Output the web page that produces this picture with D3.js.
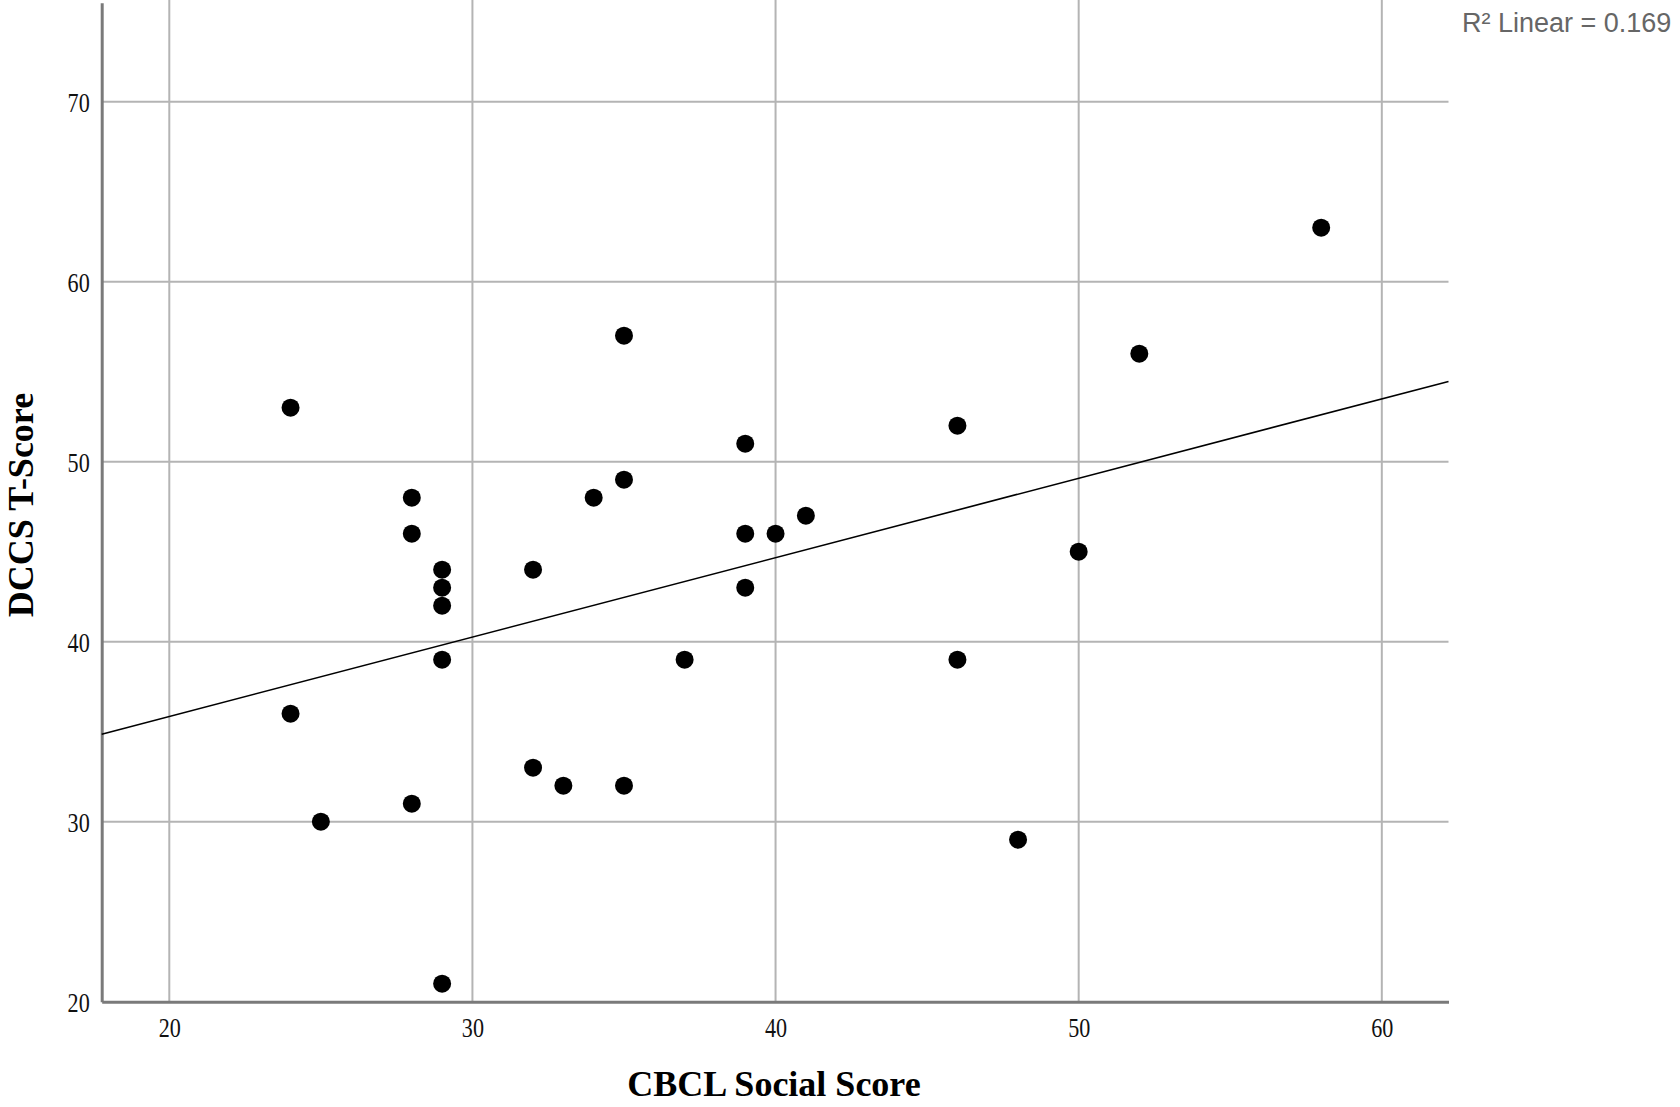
<!DOCTYPE html>
<html>
<head>
<meta charset="utf-8">
<script src="https://cdn.jsdelivr.net/npm/d3@7"></script>
<style>
  body { margin: 0; background: #fff; overflow: hidden; }
  svg { display: block; }
</style>
</head>
<body>
<svg width="1680" height="1107"></svg>
<script>
// scatter values
const cbclSocial = [24, 24, 25, 28, 28, 28, 29, 29, 29, 29, 29, 32, 32, 33, 34,
                    35, 35, 35, 37, 39, 39, 39, 40, 41, 46, 46, 48, 50, 52, 58]
const dccsT = [53, 36, 30, 48, 46, 31, 44, 43, 42, 39, 21, 44, 33, 32, 48,
               57, 49, 32, 39, 51, 46, 43, 46, 47, 52, 39, 29, 45, 56, 63]

const xTicks = [20, 30, 40, 50, 60]
const yTicks = [20, 30, 40, 50, 60, 70]
const xLabel = 'CBCL Social Score'
const yLabel = 'DCCS T-Score'
const fitLabel = 'R\u00B2 Linear = 0.169'

const svg = d3.select('svg')
const width = +svg.attr('width')
const height = +svg.attr('height')

const margin = { top: 2.7, right: 231.5, bottom: 105.3, left: 101.7 }
const innerWidth = width - margin.left - margin.right
const innerHeight = height - margin.top - margin.bottom

const data = cbclSocial.map((x, i) => ({ x: x, y: dccsT[i] }))

const xScale = d3.scaleLinear()
    .domain([17.77, 62.2])
    .range([0, innerWidth])

const yScale = d3.scaleLinear()
    .domain([20, 75.5])
    .range([innerHeight, 0])

const g = svg.append('g')
    .attr('transform', `translate(${margin.left}, ${margin.top})`)

// grid
g.selectAll('.vgrid').data(xTicks)
    .enter().append('line')
        .attr('class', 'vgrid')
        .attr('x1', d => xScale(d)).attr('x2', d => xScale(d))
        .attr('y1', -margin.top).attr('y2', innerHeight)
        .attr('stroke', '#b4b4b4')
        .attr('stroke-width', 2)

g.selectAll('.hgrid').data(yTicks.filter(d => d > 20))
    .enter().append('line')
        .attr('class', 'hgrid')
        .attr('x1', 0).attr('x2', innerWidth)
        .attr('y1', d => yScale(d)).attr('y2', d => yScale(d))
        .attr('stroke', '#b4b4b4')
        .attr('stroke-width', 2)

// axes
const squeeze = 0.82   // tick digits look narrow in the original
const yAxis = g.append('g')
    .call(d3.axisLeft(yScale).tickValues(yTicks).tickSize(0).tickSizeOuter(0).tickPadding(0))
const xAxis = g.append('g')
    .attr('transform', `translate(0, ${innerHeight})`)
    .call(d3.axisBottom(xScale).tickValues(xTicks).tickSize(0).tickSizeOuter(0).tickPadding(0))

svg.selectAll('.domain')
    .attr('stroke', '#7a7a7a')
    .attr('stroke-width', 3)

svg.selectAll('.tick text')
    .attr('font-family', '"Liberation Serif", "Times New Roman", serif')
    .attr('font-size', 27)
    .attr('fill', '#111')
    .attr('transform', `scale(${squeeze}, 1)`)

yAxis.selectAll('.tick text').attr('x', -12 / squeeze).attr('dy', '0.35em')
xAxis.selectAll('.tick text').attr('y', 35).attr('dy', 0)

// fit line
const xMean = d3.mean(data, d => d.x)
const yMean = d3.mean(data, d => d.y)
const slope = d3.sum(data, d => (d.x - xMean) * (d.y - yMean)) /
              d3.sum(data, d => (d.x - xMean) * (d.x - xMean))
const intercept = yMean - slope * xMean
const xd = xScale.domain()

g.append('line')
    .attr('x1', xScale(xd[0])).attr('y1', yScale(intercept + slope * xd[0]))
    .attr('x2', xScale(xd[1])).attr('y2', yScale(intercept + slope * xd[1]))
    .attr('stroke', '#000')
    .attr('stroke-width', 1.6)

// points
g.selectAll('circle').data(data)
    .enter().append('circle')
        .attr('cx', d => xScale(d.x))
        .attr('cy', d => yScale(d.y))
        .attr('r', 9)
        .attr('fill', '#000')

// titles
svg.append('text')
    .attr('x', 774)
    .attr('y', 1096)
    .attr('text-anchor', 'middle')
    .attr('font-family', '"Liberation Serif", "Times New Roman", serif')
    .attr('font-weight', 'bold')
    .attr('font-size', 36)
    .text(xLabel)

svg.append('text')
    .attr('transform', 'translate(33, 505) rotate(-90)')
    .attr('text-anchor', 'middle')
    .attr('font-family', '"Liberation Serif", "Times New Roman", serif')
    .attr('font-weight', 'bold')
    .attr('font-size', 36)
    .text(yLabel)

svg.append('text')
    .attr('x', 1462)
    .attr('y', 31.5)
    .attr('font-family', '"Liberation Sans", Arial, sans-serif')
    .attr('font-size', 27)
    .attr('fill', '#666')
    .text(fitLabel)
</script>
</body>
</html>
